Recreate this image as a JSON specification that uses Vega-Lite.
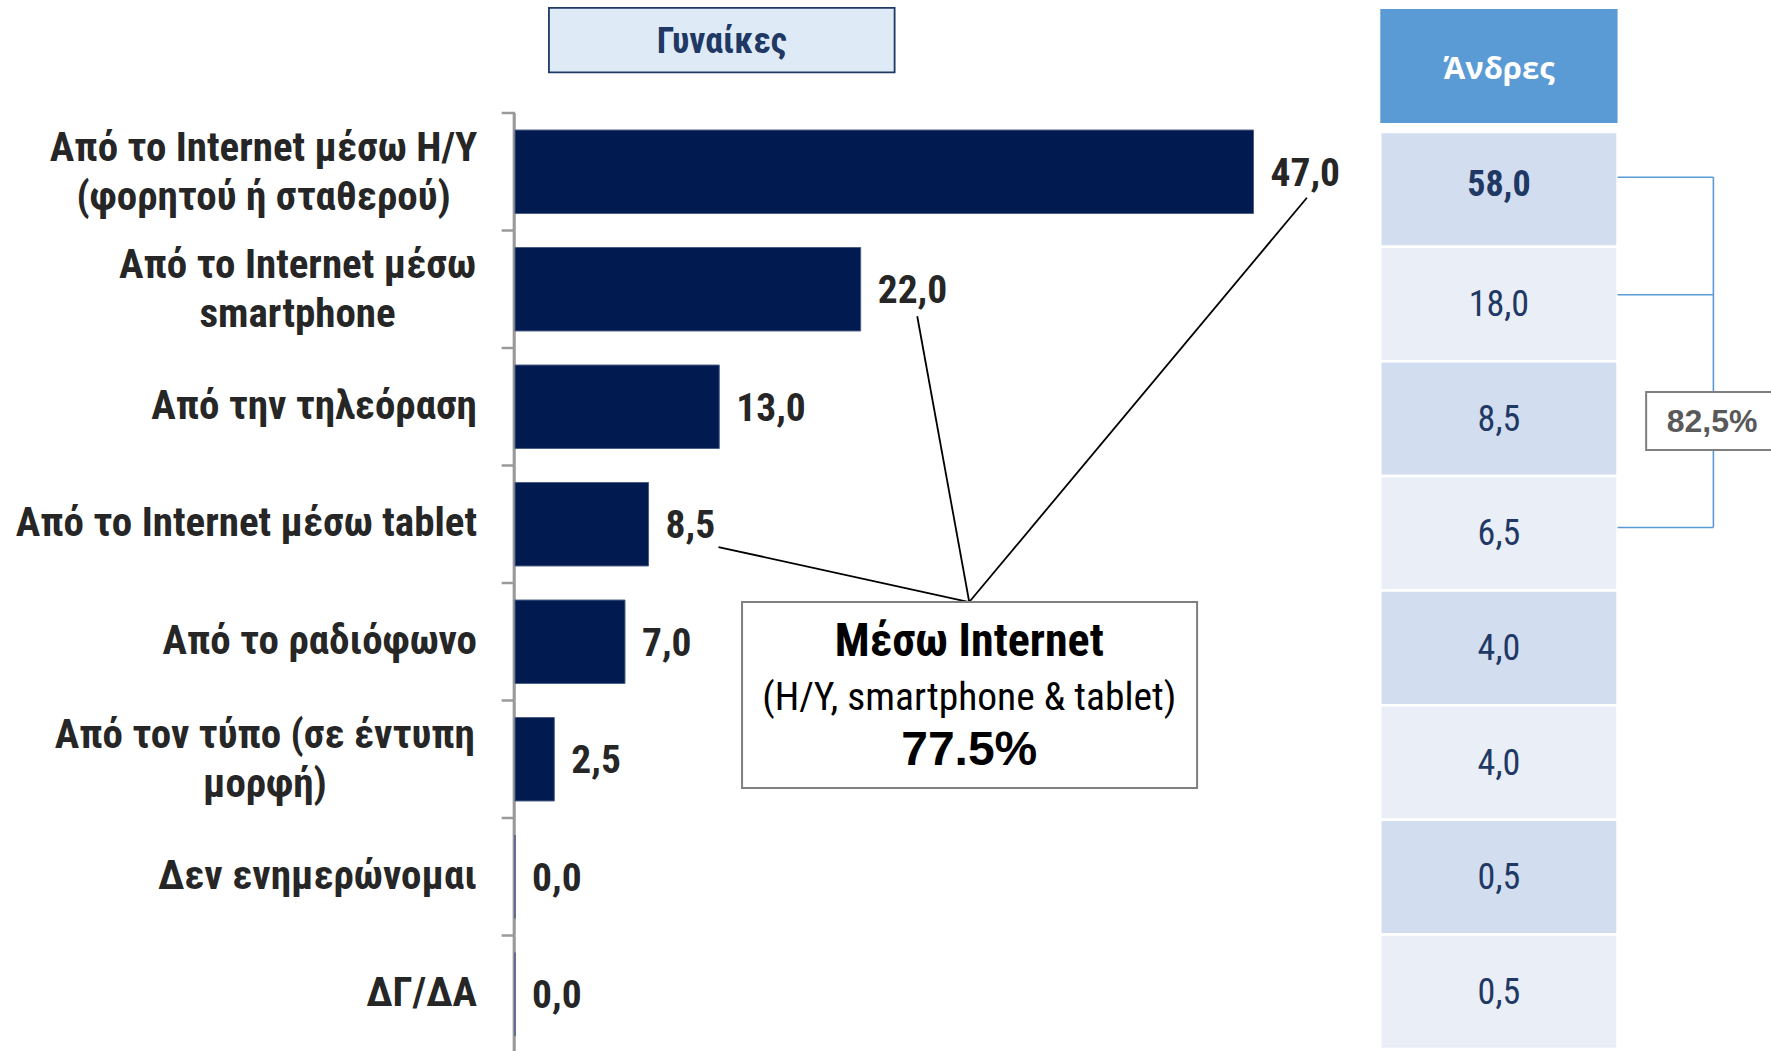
{
  "$schema": "https://vega.github.io/schema/vega-lite/v6.json",
  "autosize": {"type": "none"},
  "padding": {"left": 515, "top": 113, "right": 0, "bottom": 0},
  "width": 1257,
  "height": 940,
  "background": "white",
  "config": {
    "view": {"stroke": null},
    "locale": {"number": {"decimal": ",", "thousands": ".", "grouping": [3], "currency": ["", " €"]}}
  },
  "data": {
    "values": [
      {"cat": "Από το Internet μέσω H/Y\n(φορητού ή σταθερού)", "women": 47.0, "men": 58.0},
      {"cat": "Από το Internet μέσω\nsmartphone", "women": 22.0, "men": 18.0},
      {"cat": "Από την τηλεόραση", "women": 13.0, "men": 8.5},
      {"cat": "Από το Internet μέσω tablet", "women": 8.5, "men": 6.5},
      {"cat": "Από το ραδιόφωνο", "women": 7.0, "men": 4.0},
      {"cat": "Από τον τύπο (σε έντυπη\nμορφή)", "women": 2.5, "men": 4.0},
      {"cat": "Δεν ενημερώνομαι", "women": 0.0, "men": 0.5},
      {"cat": "ΔΓ/ΔΑ", "women": 0.0, "men": 0.5}
    ]
  },
  "resolve": {"scale": {"y": "independent"}},
  "layer": [
    {
      "mark": {"type": "rect", "color": "#9A9A9A"},
      "encoding": {
        "y": {"field": "cat", "type": "nominal", "sort": null, "axis": null,
              "scale": {"type": "band", "domain": ["Από το Internet μέσω H/Y\n(φορητού ή σταθερού)", "Από το Internet μέσω\nsmartphone", "Από την τηλεόραση", "Από το Internet μέσω tablet", "Από το ραδιόφωνο", "Από τον τύπο (σε έντυπη\nμορφή)", "Δεν ενημερώνομαι", "ΔΓ/ΔΑ"], "paddingInner": 0, "paddingOuter": 0}},
        "x": {"datum": -0.15, "type": "quantitative", "scale": {"domain": [0, 80], "nice": false, "zero": false}, "axis": null},
        "x2": {"datum": 0.05}
      }
    },
    {
      "mark": {"type": "rule", "color": "#9A9A9A", "strokeWidth": 2.5},
      "encoding": {
        "y": {"field": "cat", "type": "nominal", "sort": null, "axis": null, "bandPosition": 0,
              "scale": {"type": "band", "domain": ["Από το Internet μέσω H/Y\n(φορητού ή σταθερού)", "Από το Internet μέσω\nsmartphone", "Από την τηλεόραση", "Από το Internet μέσω tablet", "Από το ραδιόφωνο", "Από τον τύπο (σε έντυπη\nμορφή)", "Δεν ενημερώνομαι", "ΔΓ/ΔΑ"], "paddingInner": 0, "paddingOuter": 0}},
        "x": {"datum": -0.85, "type": "quantitative", "scale": {"domain": [0, 80], "nice": false, "zero": false}, "axis": null},
        "x2": {"datum": 0}
      }
    },
    {
      "mark": {"type": "bar", "color": "#011A50", "stroke": "#4A5C85", "strokeWidth": 1},
      "encoding": {
        "y": {"field": "cat", "type": "nominal", "sort": null, "axis": null,
              "scale": {"type": "band", "domain": ["Από το Internet μέσω H/Y\n(φορητού ή σταθερού)", "Από το Internet μέσω\nsmartphone", "Από την τηλεόραση", "Από το Internet μέσω tablet", "Από το ραδιόφωνο", "Από τον τύπο (σε έντυπη\nμορφή)", "Δεν ενημερώνομαι", "ΔΓ/ΔΑ"], "paddingInner": 0.29, "paddingOuter": 0.145}},
        "x": {"field": "women", "type": "quantitative", "scale": {"domain": [0, 80], "nice": false, "zero": false}, "axis": null}
      }
    },
    {
      "mark": {"type": "text", "align": "left", "baseline": "middle", "dx": 17, "dy": 2, "font": "Liberation Sans Narrow, Noto Sans Condensed, Roboto Condensed, DejaVu Sans Condensed, sans-serif", "fontWeight": "bold", "fontSize": 39.5, "color": "#262626"},
      "encoding": {
        "y": {"field": "cat", "type": "nominal", "sort": null, "axis": null,
              "scale": {"type": "band", "domain": ["Από το Internet μέσω H/Y\n(φορητού ή σταθερού)", "Από το Internet μέσω\nsmartphone", "Από την τηλεόραση", "Από το Internet μέσω tablet", "Από το ραδιόφωνο", "Από τον τύπο (σε έντυπη\nμορφή)", "Δεν ενημερώνομαι", "ΔΓ/ΔΑ"], "paddingInner": 0, "paddingOuter": 0}},
        "x": {"field": "women", "type": "quantitative", "scale": {"domain": [0, 80], "nice": false, "zero": false}, "axis": null},
        "text": {"field": "women", "type": "quantitative", "format": ".1f"}
      }
    },
    {
      "transform": [{"filter": "indexof(datum.cat, '\\n') < 0"}],
      "mark": {"type": "text", "align": "right", "baseline": "middle", "font": "Liberation Sans Narrow, Noto Sans Condensed, Roboto Condensed, DejaVu Sans Condensed, sans-serif", "fontWeight": "bold", "fontSize": 41, "color": "#262626", "lineBreak": "\n", "lineHeight": 49},
      "encoding": {
        "y": {"field": "cat", "type": "nominal", "sort": null, "axis": null,
              "scale": {"type": "band", "domain": ["Από το Internet μέσω H/Y\n(φορητού ή σταθερού)", "Από το Internet μέσω\nsmartphone", "Από την τηλεόραση", "Από το Internet μέσω tablet", "Από το ραδιόφωνο", "Από τον τύπο (σε έντυπη\nμορφή)", "Δεν ενημερώνομαι", "ΔΓ/ΔΑ"], "paddingInner": 0, "paddingOuter": 0}},
        "x": {"datum": -2.42, "type": "quantitative", "scale": {"domain": [0, 80], "nice": false, "zero": false}, "axis": null},
        "text": {"field": "cat", "type": "nominal"}
      }
    },
    {
      "transform": [{"filter": "indexof(datum.cat, 'H/Y') >= 0"}],
      "mark": {"type": "text", "align": "center", "baseline": "middle", "dy": -23, "font": "Liberation Sans Narrow, Noto Sans Condensed, Roboto Condensed, DejaVu Sans Condensed, sans-serif", "fontWeight": "bold", "fontSize": 41, "color": "#262626", "lineBreak": "\n", "lineHeight": 49},
      "encoding": {
        "y": {"field": "cat", "type": "nominal", "sort": null, "axis": null,
              "scale": {"type": "band", "domain": ["Από το Internet μέσω H/Y\n(φορητού ή σταθερού)", "Από το Internet μέσω\nsmartphone", "Από την τηλεόραση", "Από το Internet μέσω tablet", "Από το ραδιόφωνο", "Από τον τύπο (σε έντυπη\nμορφή)", "Δεν ενημερώνομαι", "ΔΓ/ΔΑ"], "paddingInner": 0, "paddingOuter": 0}},
        "x": {"datum": -16.0, "type": "quantitative", "scale": {"domain": [0, 80], "nice": false, "zero": false}, "axis": null},
        "text": {"field": "cat", "type": "nominal"}
      }
    },
    {
      "transform": [{"filter": "indexof(datum.cat, 'smartphone') >= 0"}],
      "mark": {"type": "text", "align": "center", "baseline": "middle", "dy": -23, "font": "Liberation Sans Narrow, Noto Sans Condensed, Roboto Condensed, DejaVu Sans Condensed, sans-serif", "fontWeight": "bold", "fontSize": 41, "color": "#262626", "lineBreak": "\n", "lineHeight": 49},
      "encoding": {
        "y": {"field": "cat", "type": "nominal", "sort": null, "axis": null,
              "scale": {"type": "band", "domain": ["Από το Internet μέσω H/Y\n(φορητού ή σταθερού)", "Από το Internet μέσω\nsmartphone", "Από την τηλεόραση", "Από το Internet μέσω tablet", "Από το ραδιόφωνο", "Από τον τύπο (σε έντυπη\nμορφή)", "Δεν ενημερώνομαι", "ΔΓ/ΔΑ"], "paddingInner": 0, "paddingOuter": 0}},
        "x": {"datum": -13.84, "type": "quantitative", "scale": {"domain": [0, 80], "nice": false, "zero": false}, "axis": null},
        "text": {"field": "cat", "type": "nominal"}
      }
    },
    {
      "transform": [{"filter": "indexof(datum.cat, 'έντυπη') >= 0"}],
      "mark": {"type": "text", "align": "center", "baseline": "middle", "dy": -23, "font": "Liberation Sans Narrow, Noto Sans Condensed, Roboto Condensed, DejaVu Sans Condensed, sans-serif", "fontWeight": "bold", "fontSize": 41, "color": "#262626", "lineBreak": "\n", "lineHeight": 49},
      "encoding": {
        "y": {"field": "cat", "type": "nominal", "sort": null, "axis": null,
              "scale": {"type": "band", "domain": ["Από το Internet μέσω H/Y\n(φορητού ή σταθερού)", "Από το Internet μέσω\nsmartphone", "Από την τηλεόραση", "Από το Internet μέσω tablet", "Από το ραδιόφωνο", "Από τον τύπο (σε έντυπη\nμορφή)", "Δεν ενημερώνομαι", "ΔΓ/ΔΑ"], "paddingInner": 0, "paddingOuter": 0}},
        "x": {"datum": -15.92, "type": "quantitative", "scale": {"domain": [0, 80], "nice": false, "zero": false}, "axis": null},
        "text": {"field": "cat", "type": "nominal"}
      }
    },
    {
      "mark": {"type": "rect", "stroke": "white", "strokeWidth": 2.5},
      "encoding": {
        "y": {"field": "cat", "type": "nominal", "sort": null, "axis": null,
              "scale": {"type": "band", "domain": ["Από το Internet μέσω H/Y\n(φορητού ή σταθερού)", "Από το Internet μέσω\nsmartphone", "Από την τηλεόραση", "Από το Internet μέσω tablet", "Από το ραδιόφωνο", "Από τον τύπο (σε έντυπη\nμορφή)", "Δεν ενημερώνομαι", "ΔΓ/ΔΑ"], "paddingInner": 0, "paddingOuter": 0.1, "align": 0.83}},
        "x": {"datum": 55.07, "type": "quantitative", "scale": {"domain": [0, 80], "nice": false, "zero": false}, "axis": null},
        "x2": {"datum": 70.17},
        "color": {"field": "cat", "type": "nominal", "legend": null,
                  "scale": {"domain": ["Από το Internet μέσω H/Y\n(φορητού ή σταθερού)", "Από το Internet μέσω\nsmartphone", "Από την τηλεόραση", "Από το Internet μέσω tablet", "Από το ραδιόφωνο", "Από τον τύπο (σε έντυπη\nμορφή)", "Δεν ενημερώνομαι", "ΔΓ/ΔΑ"],
                            "range": ["#D2DEEF", "#EAEFF7", "#D2DEEF", "#EAEFF7", "#D2DEEF", "#EAEFF7", "#D2DEEF", "#EAEFF7"]}}
      }
    },
    {
      "transform": [{"filter": "datum.men < 50"}],
      "mark": {"type": "text", "align": "center", "baseline": "middle", "dy": 1, "font": "Liberation Sans Narrow, Noto Sans Condensed, Roboto Condensed, DejaVu Sans Condensed, sans-serif", "fontSize": 36, "color": "#1F3864"},
      "encoding": {
        "y": {"field": "cat", "type": "nominal", "sort": null, "axis": null,
              "scale": {"type": "band", "domain": ["Από το Internet μέσω H/Y\n(φορητού ή σταθερού)", "Από το Internet μέσω\nsmartphone", "Από την τηλεόραση", "Από το Internet μέσω tablet", "Από το ραδιόφωνο", "Από τον τύπο (σε έντυπη\nμορφή)", "Δεν ενημερώνομαι", "ΔΓ/ΔΑ"], "paddingInner": 0, "paddingOuter": 0.1, "align": 0.83}},
        "x": {"datum": 62.62, "type": "quantitative", "scale": {"domain": [0, 80], "nice": false, "zero": false}, "axis": null},
        "text": {"field": "men", "type": "quantitative", "format": ".1f"}
      }
    },
    {
      "transform": [{"filter": "datum.men >= 50"}],
      "mark": {"type": "text", "align": "center", "baseline": "middle", "dy": -4, "font": "Liberation Sans Narrow, Noto Sans Condensed, Roboto Condensed, DejaVu Sans Condensed, sans-serif", "fontWeight": "bold", "fontSize": 36, "color": "#1F3864"},
      "encoding": {
        "y": {"field": "cat", "type": "nominal", "sort": null, "axis": null,
              "scale": {"type": "band", "domain": ["Από το Internet μέσω H/Y\n(φορητού ή σταθερού)", "Από το Internet μέσω\nsmartphone", "Από την τηλεόραση", "Από το Internet μέσω tablet", "Από το ραδιόφωνο", "Από τον τύπο (σε έντυπη\nμορφή)", "Δεν ενημερώνομαι", "ΔΓ/ΔΑ"], "paddingInner": 0, "paddingOuter": 0.1, "align": 0.83}},
        "x": {"datum": 62.62, "type": "quantitative", "scale": {"domain": [0, 80], "nice": false, "zero": false}, "axis": null},
        "text": {"field": "men", "type": "quantitative", "format": ".1f"}
      }
    },
    {
      "data": {"values": [{}]},
      "mark": {"type": "rect", "fill": "#DEEBF7", "stroke": "#1F3864", "strokeWidth": 1.8},
      "encoding": {
        "x": {"datum": 2.16, "type": "quantitative", "scale": {"domain": [0, 80], "nice": false, "zero": false}, "axis": null},
        "x2": {"datum": 24.16},
        "y": {"datum": -0.894, "type": "quantitative", "scale": {"domain": [0, 8], "reverse": true, "nice": false, "zero": false}, "axis": null},
        "y2": {"datum": -0.346}
      }
    },
    {
      "data": {"values": [{}]},
      "mark": {"type": "text", "text": "Γυναίκες", "align": "center", "baseline": "middle", "font": "Liberation Sans Narrow, Noto Sans Condensed, Roboto Condensed, DejaVu Sans Condensed, sans-serif", "fontWeight": "bold", "fontSize": 36, "color": "#1F3864"},
      "encoding": {
        "x": {"datum": 13.16, "type": "quantitative", "scale": {"domain": [0, 80], "nice": false, "zero": false}, "axis": null},
        "y": {"datum": -0.606, "type": "quantitative", "scale": {"domain": [0, 8], "reverse": true, "nice": false, "zero": false}, "axis": null}
      }
    },
    {
      "data": {"values": [{}]},
      "mark": {"type": "rect", "fill": "#5B9BD5"},
      "encoding": {
        "x": {"datum": 55.07, "type": "quantitative", "scale": {"domain": [0, 80], "nice": false, "zero": false}, "axis": null},
        "x2": {"datum": 70.17},
        "y": {"datum": -0.885, "type": "quantitative", "scale": {"domain": [0, 8], "reverse": true, "nice": false, "zero": false}, "axis": null},
        "y2": {"datum": 0.086}
      }
    },
    {
      "data": {"values": [{}]},
      "mark": {"type": "text", "text": "Άνδρες", "align": "center", "baseline": "middle", "font": "Open Sans, Liberation Sans, sans-serif", "fontWeight": "bold", "fontSize": 31, "color": "white"},
      "encoding": {
        "x": {"datum": 62.62, "type": "quantitative", "scale": {"domain": [0, 80], "nice": false, "zero": false}, "axis": null},
        "y": {"datum": -0.366, "type": "quantitative", "scale": {"domain": [0, 8], "reverse": true, "nice": false, "zero": false}, "axis": null}
      }
    },
    {
      "data": {"values": [{}]},
      "mark": {"type": "rule", "color": "#5B9BD5", "strokeWidth": 1.6},
      "encoding": {
        "x": {"datum": 70.17, "type": "quantitative", "scale": {"domain": [0, 80], "nice": false, "zero": false}, "axis": null},
        "x2": {"datum": 76.27},
        "y": {"datum": 0.547, "type": "quantitative", "scale": {"domain": [0, 8], "reverse": true, "nice": false, "zero": false}, "axis": null}
      }
    },
    {
      "data": {"values": [{}]},
      "mark": {"type": "rule", "color": "#5B9BD5", "strokeWidth": 1.6},
      "encoding": {
        "x": {"datum": 70.17, "type": "quantitative", "scale": {"domain": [0, 80], "nice": false, "zero": false}, "axis": null},
        "x2": {"datum": 76.27},
        "y": {"datum": 1.547, "type": "quantitative", "scale": {"domain": [0, 8], "reverse": true, "nice": false, "zero": false}, "axis": null}
      }
    },
    {
      "data": {"values": [{}]},
      "mark": {"type": "rule", "color": "#5B9BD5", "strokeWidth": 1.6},
      "encoding": {
        "x": {"datum": 70.17, "type": "quantitative", "scale": {"domain": [0, 80], "nice": false, "zero": false}, "axis": null},
        "x2": {"datum": 76.27},
        "y": {"datum": 3.528, "type": "quantitative", "scale": {"domain": [0, 8], "reverse": true, "nice": false, "zero": false}, "axis": null}
      }
    },
    {
      "data": {"values": [{}]},
      "mark": {"type": "rule", "color": "#5B9BD5", "strokeWidth": 1.6},
      "encoding": {
        "x": {"datum": 76.27, "type": "quantitative", "scale": {"domain": [0, 80], "nice": false, "zero": false}, "axis": null},
        "y": {"datum": 0.547, "type": "quantitative", "scale": {"domain": [0, 8], "reverse": true, "nice": false, "zero": false}, "axis": null},
        "y2": {"datum": 3.528}
      }
    },
    {
      "data": {"values": [{}]},
      "mark": {"type": "rect", "fill": "white", "stroke": "#7F7F7F", "strokeWidth": 2},
      "encoding": {
        "x": {"datum": 71.99, "type": "quantitative", "scale": {"domain": [0, 80], "nice": false, "zero": false}, "axis": null},
        "x2": {"datum": 81.5},
        "y": {"datum": 2.374, "type": "quantitative", "scale": {"domain": [0, 8], "reverse": true, "nice": false, "zero": false}, "axis": null},
        "y2": {"datum": 2.868}
      }
    },
    {
      "data": {"values": [{}]},
      "mark": {"type": "text", "text": "82,5%", "align": "center", "baseline": "middle", "font": "Liberation Sans, Arial, sans-serif", "fontWeight": "bold", "fontSize": 32, "color": "#595959"},
      "encoding": {
        "x": {"datum": 76.19, "type": "quantitative", "scale": {"domain": [0, 80], "nice": false, "zero": false}, "axis": null},
        "y": {"datum": 2.63, "type": "quantitative", "scale": {"domain": [0, 8], "reverse": true, "nice": false, "zero": false}, "axis": null}
      }
    },
    {
      "data": {"values": [{}]},
      "mark": {"type": "rule", "color": "#000000", "strokeWidth": 1.8},
      "encoding": {
        "x": {"datum": 50.4, "type": "quantitative", "scale": {"domain": [0, 80], "nice": false, "zero": false}, "axis": null},
        "x2": {"datum": 28.91},
        "y": {"datum": 0.721, "type": "quantitative", "scale": {"domain": [0, 8], "reverse": true, "nice": false, "zero": false}, "axis": null},
        "y2": {"datum": 4.162}
      }
    },
    {
      "data": {"values": [{}]},
      "mark": {"type": "rule", "color": "#000000", "strokeWidth": 1.8},
      "encoding": {
        "x": {"datum": 25.6, "type": "quantitative", "scale": {"domain": [0, 80], "nice": false, "zero": false}, "axis": null},
        "x2": {"datum": 28.91},
        "y": {"datum": 1.73, "type": "quantitative", "scale": {"domain": [0, 8], "reverse": true, "nice": false, "zero": false}, "axis": null},
        "y2": {"datum": 4.162}
      }
    },
    {
      "data": {"values": [{}]},
      "mark": {"type": "rule", "color": "#000000", "strokeWidth": 1.8},
      "encoding": {
        "x": {"datum": 12.95, "type": "quantitative", "scale": {"domain": [0, 80], "nice": false, "zero": false}, "axis": null},
        "x2": {"datum": 28.91},
        "y": {"datum": 3.694, "type": "quantitative", "scale": {"domain": [0, 8], "reverse": true, "nice": false, "zero": false}, "axis": null},
        "y2": {"datum": 4.162}
      }
    },
    {
      "data": {"values": [{}]},
      "mark": {"type": "rect", "fill": "white", "stroke": "#7F7F7F", "strokeWidth": 2},
      "encoding": {
        "x": {"datum": 14.45, "type": "quantitative", "scale": {"domain": [0, 80], "nice": false, "zero": false}, "axis": null},
        "x2": {"datum": 43.41},
        "y": {"datum": 4.162, "type": "quantitative", "scale": {"domain": [0, 8], "reverse": true, "nice": false, "zero": false}, "axis": null},
        "y2": {"datum": 5.745}
      }
    },
    {
      "data": {"values": [{}]},
      "mark": {"type": "text", "text": "Μέσω Internet", "align": "center", "baseline": "middle", "font": "Liberation Sans Narrow, Noto Sans Condensed, Roboto Condensed, DejaVu Sans Condensed, sans-serif", "fontWeight": "bold", "fontSize": 46, "color": "#000000"},
      "encoding": {
        "x": {"datum": 28.91, "type": "quantitative", "scale": {"domain": [0, 80], "nice": false, "zero": false}, "axis": null},
        "y": {"datum": 4.499, "type": "quantitative", "scale": {"domain": [0, 8], "reverse": true, "nice": false, "zero": false}, "axis": null}
      }
    },
    {
      "data": {"values": [{}]},
      "mark": {"type": "text", "text": "(H/Y, smartphone & tablet)", "align": "center", "baseline": "middle", "font": "Liberation Sans Narrow, Noto Sans Condensed, Roboto Condensed, DejaVu Sans Condensed, sans-serif", "fontSize": 39.5, "color": "#000000"},
      "encoding": {
        "x": {"datum": 28.91, "type": "quantitative", "scale": {"domain": [0, 80], "nice": false, "zero": false}, "axis": null},
        "y": {"datum": 4.979, "type": "quantitative", "scale": {"domain": [0, 8], "reverse": true, "nice": false, "zero": false}, "axis": null}
      }
    },
    {
      "data": {"values": [{}]},
      "mark": {"type": "text", "text": "77.5%", "align": "center", "baseline": "middle", "font": "Liberation Sans, Arial, sans-serif", "fontWeight": "bold", "fontSize": 48, "color": "#000000"},
      "encoding": {
        "x": {"datum": 28.91, "type": "quantitative", "scale": {"domain": [0, 80], "nice": false, "zero": false}, "axis": null},
        "y": {"datum": 5.43, "type": "quantitative", "scale": {"domain": [0, 8], "reverse": true, "nice": false, "zero": false}, "axis": null}
      }
    }
  ]
}
